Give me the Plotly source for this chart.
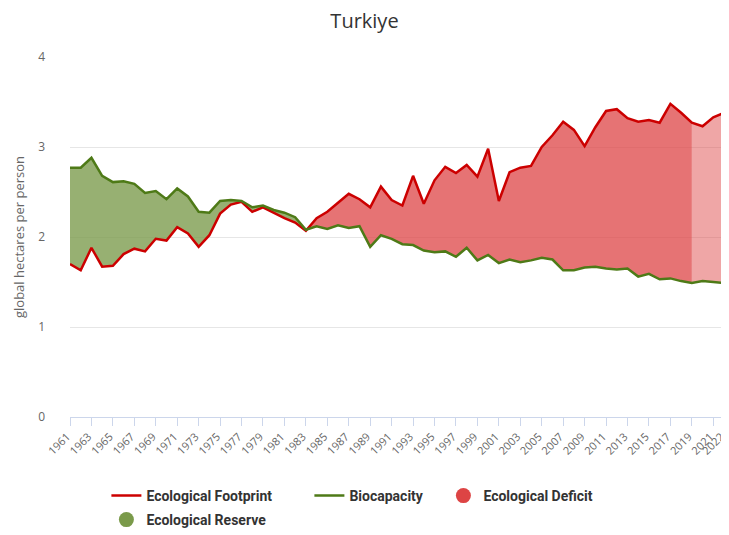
import plotly.graph_objects as go

years = list(range(1961, 2023))
footprint = [1.70, 1.63, 1.88, 1.67, 1.68, 1.81, 1.87, 1.84, 1.98, 1.96,
             2.11, 2.04, 1.89, 2.02, 2.26, 2.36, 2.39, 2.28, 2.33, 2.27,
             2.21, 2.16, 2.07, 2.21, 2.28, 2.38, 2.48, 2.42, 2.33, 2.56,
             2.41, 2.35, 2.68, 2.37, 2.63, 2.78, 2.71, 2.80, 2.67, 2.98,
             2.40, 2.72, 2.77, 2.79, 3.00, 3.13, 3.28, 3.19, 3.01, 3.22,
             3.40, 3.42, 3.32, 3.28, 3.30, 3.27, 3.48, 3.38, 3.27, 3.23,
             3.33, 3.38]
biocapacity = [2.77, 2.77, 2.88, 2.68, 2.61, 2.62, 2.59, 2.49, 2.51, 2.42,
               2.54, 2.45, 2.28, 2.27, 2.40, 2.41, 2.40, 2.33, 2.35, 2.30,
               2.27, 2.22, 2.08, 2.12, 2.09, 2.13, 2.10, 2.12, 1.89, 2.02,
               1.98, 1.92, 1.91, 1.85, 1.83, 1.84, 1.78, 1.88, 1.74, 1.80,
               1.71, 1.75, 1.72, 1.74, 1.77, 1.75, 1.63, 1.63, 1.66, 1.67,
               1.65, 1.64, 1.65, 1.56, 1.59, 1.53, 1.54, 1.51, 1.49, 1.51,
               1.50, 1.49]
projection_start = 2019
tick_years = list(range(1961, 2022, 2)) + [2022]

RED = "#cc0000"
GREEN = "#4e7a17"
RESERVE_FILL = "rgba(122,154,74,0.78)"
DEFICIT_FILL = "rgba(221,68,70,0.75)"
DEFICIT_PROJ = "rgba(221,68,70,0.48)"

upper = [max(a, b) for a, b in zip(footprint, biocapacity)]

fig = go.Figure()

fig.add_trace(go.Scatter(x=years, y=footprint, mode="lines", line=dict(width=0),
                         showlegend=False, hoverinfo="skip"))
fig.add_trace(go.Scatter(x=years, y=upper, mode="lines", line=dict(width=0),
                         fill="tonexty", fillcolor=RESERVE_FILL,
                         showlegend=False, hoverinfo="skip"))

idx = years.index(projection_start)
segments = [(slice(0, idx + 1), DEFICIT_FILL), (slice(idx, len(years)), DEFICIT_PROJ)]
for sl, col in segments:
    fig.add_trace(go.Scatter(x=years[sl], y=biocapacity[sl], mode="lines",
                             line=dict(width=0), showlegend=False, hoverinfo="skip"))
    fig.add_trace(go.Scatter(x=years[sl], y=upper[sl], mode="lines",
                             line=dict(width=0), fill="tonexty", fillcolor=col,
                             showlegend=False, hoverinfo="skip"))

fig.add_trace(go.Scatter(x=years, y=footprint, mode="lines", name="Ecological Footprint",
                         line=dict(color=RED, width=2.5), legend="legend"))
fig.add_trace(go.Scatter(x=years, y=biocapacity, mode="lines", name="Biocapacity",
                         line=dict(color=GREEN, width=2.5), legend="legend2"))
fig.add_trace(go.Scatter(x=[None], y=[None], mode="markers", name="Ecological Deficit",
                         marker=dict(color="#dd4444", size=15, symbol="circle"),
                         legend="legend3"))
fig.add_trace(go.Scatter(x=[None], y=[None], mode="markers", name="Ecological Reserve",
                         marker=dict(color="#7a9a4a", size=15, symbol="circle"),
                         legend="legend4"))

# The page body has an 8px margin, so the figure is sized/offset to compensate.
W, H = 721, 527
PL, PW = 62, 654
def lx(px_text_start):
    return (px_text_start - 8 - 40.6 - PL) / PW

legend_font = dict(size=14, color="#333333", family="Roboto, sans-serif", weight="bold")
def leg(x, ypage):
    return dict(orientation="h", x=x, xanchor="left", yref="container",
                y=1 - (ypage - 8 - 15) / H, yanchor="top", font=legend_font,
                itemsizing="trace", bgcolor="rgba(0,0,0,0)")

fig.update_layout(
    width=W, height=H,
    margin=dict(l=PL, r=5, t=49, b=118, autoexpand=False),
    paper_bgcolor="white", plot_bgcolor="white",
    font=dict(family="Open Sans, sans-serif", color="#666666", size=12),
    title=dict(text="Turkiye", x=(364.5 - 8) / W, xanchor="center",
               y=1 - 13 / H, yanchor="middle",
               font=dict(size=20, color="#333333", family="Open Sans, sans-serif")),
    showlegend=True,
    legend=leg(lx(147), 495),
    legend2=leg(lx(350), 495),
    legend3=leg(lx(484), 495),
    legend4=leg(lx(147), 519),
)

fig.update_xaxes(range=[1961, 2022], tickmode="array", tickvals=tick_years,
                 ticktext=[str(y) for y in tick_years], tickangle=-45,
                 showgrid=False, showline=True, linecolor="#ccd6eb", linewidth=1,
                 ticks="outside", ticklen=8, tickcolor="#ccd6eb",
                 tickfont=dict(size=11, color="#666666"), zeroline=False,
                 automargin=False, ticklabeloverflow="allow", ticklabelshift=-3)
fig.update_yaxes(range=[0, 4], tickvals=[0, 1, 2, 3, 4], showgrid=True,
                 gridcolor="#e6e6e6", zeroline=False, showline=False,
                 title=dict(text="global hectares per person", font=dict(size=13, color="#666666"),
                            standoff=10),
                 tickfont=dict(size=12, color="#666666"), ticks="", ticklabelstandoff=24,
                 automargin=False)

fig.write_html("out.html")
